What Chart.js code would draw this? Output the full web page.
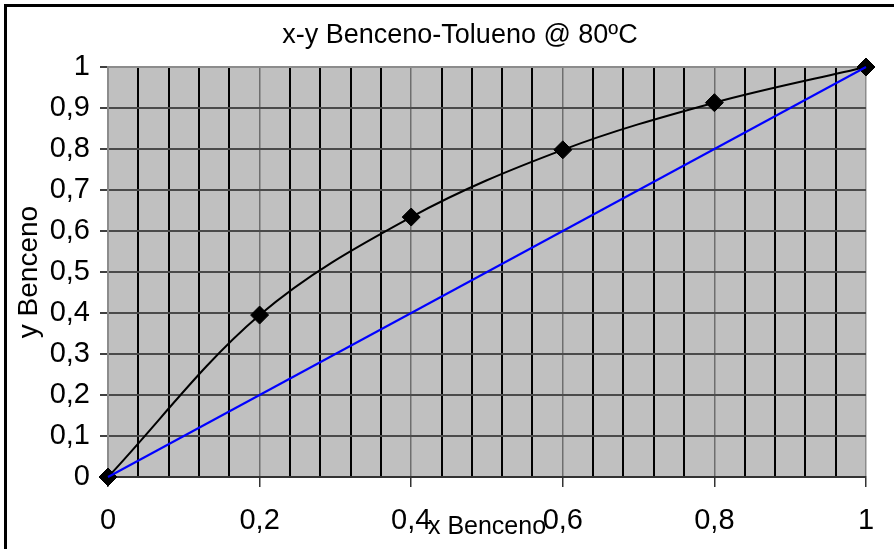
<!DOCTYPE html>
<html>
<head>
<meta charset="utf-8">
<script src="https://cdn.jsdelivr.net/npm/chart.js@4"></script>
<style>
  body { margin: 0; background: #fff; }
  #wrap { position: relative; width: 894px; height: 549px; overflow: hidden; }
  #frame { position: absolute; left: 4px; top: 4px; width: 1000px; height: 700px;
           border-left: 3px solid #000; border-top: 3px solid #000; pointer-events: none; }
</style>
</head>
<body>
<div id="wrap">
  <canvas id="chart" width="894" height="549"></canvas>
  <div id="frame"></div>
</div>
<script>
// data
const xBenceno = [0, 0.2, 0.4, 0.6, 0.8, 1];
const yBenceno = [0, 0.395, 0.634, 0.798, 0.913, 1];
const diagX = [0, 1];
const diagY = [0, 1];

// axis ticks
const xStep = 0.04;     // vertical grid lines
const xLabelStep = 0.2; // labelled ticks
const yStep = 0.1;

const FONT = "'Liberation Sans', Arial, sans-serif";

function isMajor(v) {
  const r = v / xLabelStep;
  return Math.abs(r - Math.round(r)) < 1e-6;
}
function comma(v) {
  return String(Math.round(v * 10) / 10).replace('.', ',');
}

// grey plot area
const plotBg = {
  id: 'plotBg',
  beforeDraw(chart) {
    const a = chart.chartArea, c = chart.ctx;
    c.save();
    c.fillStyle = '#c0c0c0';
    c.fillRect(a.left, a.top, a.right - a.left, a.bottom - a.top);
    c.restore();
  }
};

new Chart(document.getElementById('chart'), {
  type: 'line',
  data: {
    datasets: [
      {
        data: diagX.map((x, i) => ({ x: x, y: diagY[i] })),
        borderColor: '#0000ff',
        borderWidth: 2,
        pointRadius: 0,
        tension: 0,
        clip: false,
        order: 0
      },
      {
        data: xBenceno.map((x, i) => ({ x: x, y: yBenceno[i] })),
        borderColor: '#000',
        borderWidth: 2,
        pointStyle: 'rectRot',
        pointRadius: 9,
        pointBackgroundColor: '#000',
        pointBorderColor: '#000',
        pointBorderWidth: 1,
        tension: 0.35,
        clip: false,
        order: 1
      }
    ]
  },
  options: {
    responsive: false,
    animation: false,
    devicePixelRatio: 1,
    layout: { padding: { left: 26, right: 0, top: 0, bottom: 0 } },
    plugins: {
      legend: { display: false },
      tooltip: { enabled: false },
      title: {
        display: true,
        text: 'x-y Benceno-Tolueno @ 80ºC',
        color: '#000',
        font: { family: FONT, size: 27, weight: 'normal' },
        padding: { top: 19, bottom: 15.6 }
      }
    },
    scales: {
      x: {
        type: 'linear',
        min: 0,
        max: 1,
        afterFit(s) { s.height = 72; },
        ticks: {
          stepSize: xStep,
          autoSkip: false,
          maxRotation: 0,
          padding: 17,
          color: '#000',
          font: { family: FONT, size: 29 },
          callback: v => isMajor(v) ? comma(v) : ''
        },
        grid: {
          tickLength: 10,
          color: ctx => {
            const v = ctx.tick.value;
            if (Math.abs(v - 1) < 1e-6) return '#8c8c8c';
            return isMajor(v) ? '#6e6e6e' : '#000';
          },
          lineWidth: ctx => isMajor(ctx.tick.value) ? 1.5 : 2,
          tickColor: ctx => isMajor(ctx.tick.value) ? '#333' : 'rgba(0,0,0,0)',
          tickWidth: 1.5
        },
        border: { color: '#333', width: 2 },
        title: {
          display: true,
          text: 'x Benceno',
          color: '#000',
          font: { family: FONT, size: 25 },
          padding: { top: 0, bottom: 7 }
        }
      },
      y: {
        min: 0,
        max: 1,
        afterFit(s) { s.width = 82; },
        ticks: {
          stepSize: yStep,
          padding: 10,
          color: '#000',
          font: { family: FONT, size: 29 },
          callback: v => comma(v)
        },
        grid: {
          tickLength: 8,
          color: ctx => Math.abs(ctx.tick.value - 1) < 1e-6 ? '#8c8c8c' : '#4a4a4a',
          lineWidth: 2,
          tickColor: '#000',
          tickWidth: 1.5
        },
        border: { color: '#8c8c8c', width: 2 },
        title: {
          display: true,
          text: 'y Benceno',
          color: '#000',
          font: { family: FONT, size: 28 },
          padding: { top: -14, bottom: 0 }
        }
      },
      // empty box on the right so the plot ends where the reference does
      yRight: {
        position: 'right',
        afterFit(s) { s.width = 28; },
        ticks: { display: false },
        grid: { display: false },
        border: { display: false }
      }
    }
  },
  plugins: [plotBg]
});
</script>
</body>
</html>
